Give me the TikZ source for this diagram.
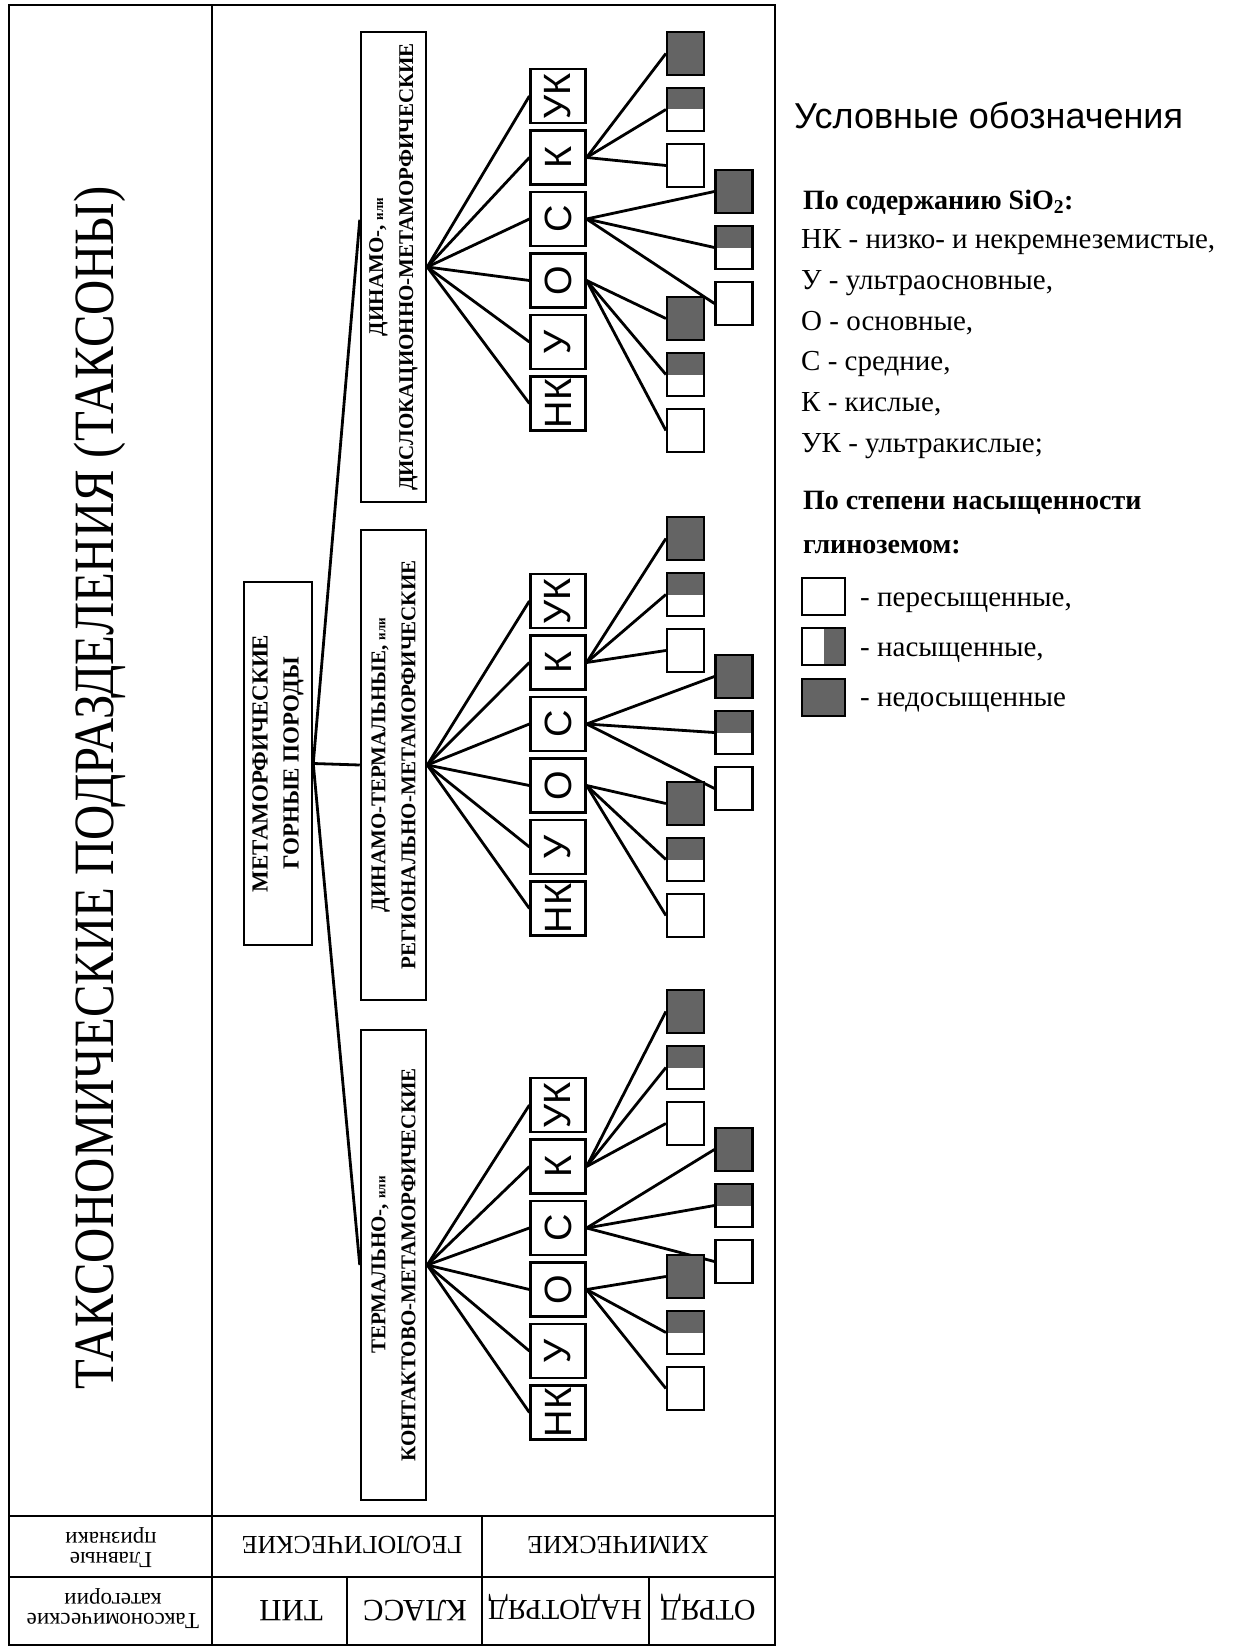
\documentclass[tikz,border=0pt]{standalone}
\usepackage{fontspec}
\setmainfont{Liberation Serif}
\setsansfont{Liberation Sans}
\usetikzlibrary{calc}

\definecolor{rockgray}{RGB}{100,100,100}

\newcommand*{\xleft}{9}
\newcommand*{\xright}{775}
\newcommand*{\ytop}{5}
\newcommand*{\ybot}{1645}
\newcommand*{\xsplit}{212}
\newcommand*{\yrowa}{1516}
\newcommand*{\yrowb}{1577}
\newcommand*{\ili}{{\fontsize{13}{13}\selectfont или}}

\begin{document}
\begin{tikzpicture}
[
	x=1pt, y=-1pt,
	frameline/.style={line width=2.8pt},
	link/.style={line width=2.8pt},
	rootbox/.style={draw,line width=2.5pt,rotate=90,inner sep=0pt,align=center,
		minimum width=363pt,minimum height=68pt,font=\bfseries\fontsize{23}{31}\selectfont},
	typebox/.style={draw,line width=2.5pt,rotate=90,inner sep=0pt,align=center,
		minimum width=470pt,minimum height=65pt,font=\bfseries\fontsize{21}{30}\selectfont},
	classbox/.style={draw,line width=2.2pt,rotate=90,inner sep=0pt,
		minimum width=54pt,minimum height=55pt,font=\sffamily\fontsize{38}{38}\selectfont},
	sqbox/.style={draw,line width=2.2pt,inner sep=0pt,minimum width=37pt,minimum height=43pt},
	sqfull/.style={sqbox,fill=rockgray},
	sqhalf/.style={sqbox,fill=white,path picture={\fill[rockgray] (path picture bounding box.north west) rectangle (path picture bounding box.east);}},
	sqnone/.style={sqbox,fill=white},
	legsq/.style={draw,line width=2.2pt,inner sep=0pt,minimum width=43pt,minimum height=37pt},
	rowtext/.style={rotate=180,inner sep=0pt,text height=0.66em,text depth=0pt},
	celltext/.style={rotate=180,inner sep=0pt,align=center,font=\fontsize{23}{20}\selectfont},
	legtext/.style={anchor=base west,inner sep=0pt,font=\fontsize{29}{32}\selectfont},
	leghead/.style={anchor=base west,inner sep=0pt,font=\bfseries\fontsize{28}{32}\selectfont}
]
	\useasboundingbox (0,0) rectangle (1250,1648);

	% frame and table
	\draw[frameline] (\xleft,\ytop) rectangle (\xright,\ybot);
	\draw[frameline] (\xsplit,\ytop) -- (\xsplit,\ybot);
	\draw[frameline] (\xleft,\yrowa) -- (\xright,\yrowa);
	\draw[frameline] (\xleft,\yrowb) -- (\xright,\yrowb);
	\draw[frameline] (482,\yrowa) -- (482,\ybot);
	\draw[frameline] (347,\yrowb) -- (347,\ybot);
	\draw[frameline] (649,\yrowb) -- (649,\ybot);

	% title column
	\node[rotate=90,inner sep=0pt,font=\fontsize{57}{60}\selectfont] (title) at (100,788)
		{\scalebox{0.855}[1]{ТАКСОНОМИЧЕСКИЕ ПОДРАЗДЕЛЕНИЯ (ТАКСОНЫ)}};

	% bottom rows (upside down)
	\node[celltext] (signs) at (111,1548) {Главные\\признаки};
	\node[celltext] (cats) at (113,1609) {Таксономические\\категории};
	\node[rowtext,font=\fontsize{26}{26}\selectfont] (geo) at (352,1540) {ГЕОЛОГИЧЕСКИЕ};
	\node[rowtext,font=\fontsize{26}{26}\selectfont] (chem) at (618,1540) {ХИМИЧЕСКИЕ};
	\node[rowtext,font=\fontsize{31}{31}\selectfont] (tip) at (291,1604) {ТИП};
	\node[rowtext,font=\fontsize{31}{31}\selectfont] (klass) at (415,1604) {КЛАСС};
	\node[rowtext,font=\fontsize{29}{29}\selectfont] (nadotr) at (565,1604) {НАДОТРЯД};
	\node[rowtext,font=\fontsize{30}{30}\selectfont] (otr) at (708,1604) {ОТРЯД};

	% root and types
	\node[rootbox] (root) at (278,763.5) {МЕТАМОРФИЧЕСКИЕ\\ГОРНЫЕ ПОРОДЫ};
	\node[typebox] (t1) at (393.5,267) {ДИНАМО-, \ili\\ДИСЛОКАЦИОННО-МЕТАМОРФИЧЕСКИЕ};
	\node[typebox] (t2) at (393.5,765) {ДИНАМО-ТЕРМАЛЬНЫЕ, \ili\\РЕГИОНАЛЬНО-МЕТАМОРФИЧЕСКИЕ};
	\node[typebox] (t3) at (393.5,1265) {ТЕРМАЛЬНО-, \ili\\КОНТАКТОВО-МЕТАМОРФИЧЕСКИЕ};
	\draw[link] (root.south) -- ($(t1.north)!0.2!(t1.north east)$);
	\draw[link] (root.south) -- (t2.north);
	\draw[link] (root.south) -- (t3.north);

	% classes and alumina squares
	\foreach \b/\cy/\sy in {1/96/53.5, 2/601/538.5, 3/1105/1011.5} {
		\foreach \c [count=\i from 0] in {УК,К,С,О,У,НК} {
			\node[classbox] (c\b-\i) at (558,\cy+61.5*\i) {\c};
			\draw[link] (t\b.south) -- (c\b-\i.north);
		}
		\foreach \p/\x/\d in {1/685.5/0, 2/734/138, 3/685.5/265} {
			\foreach \k/\s in {0/sqfull, 1/sqhalf, 2/sqnone} {
				\node[\s] (s\b-\p-\k) at (\x,\sy+\d+56*\k) {};
				\draw[link] (c\b-\p.south) -- (s\b-\p-\k.west);
			}
		}
	}

	% legend
	\node[anchor=base west,inner sep=0pt,font=\sffamily\fontsize{36}{40}\selectfont] (legtitle) at (794,129) {Условные обозначения};
	\node[leghead] (hsio) at (803,209) {По содержанию SiO\textsubscript{2}:};
	\foreach \t [count=\i] in {{НК - низко- и некремнеземистые,},{У - ультраосновные,},{О - основные,},{С - средние,},{К - кислые,},{УК - ультракислые;}}
		\node[legtext] (l\i) at (801,208+40.7*\i) {\t};
	\node[leghead] (hal) at (803,509) {По степени насыщенности};
	\node[leghead] (hal2) at (803,553) {глиноземом:};
	\node[legsq,fill=white] (q1) at (823.5,596.5) {};
	\node[legsq,fill=white,path picture={\fill[rockgray] (path picture bounding box.north) rectangle (path picture bounding box.south east);}] (q2) at (823.5,646.5) {};
	\node[legsq,fill=rockgray] (q3) at (823.5,697.5) {};
	\node[legtext] (lq1) at (860,606) {- пересыщенные,};
	\node[legtext] (lq2) at (860,656) {- насыщенные,};
	\node[legtext] (lq3) at (860,706) {- недосыщенные};

\end{tikzpicture}
\end{document}
